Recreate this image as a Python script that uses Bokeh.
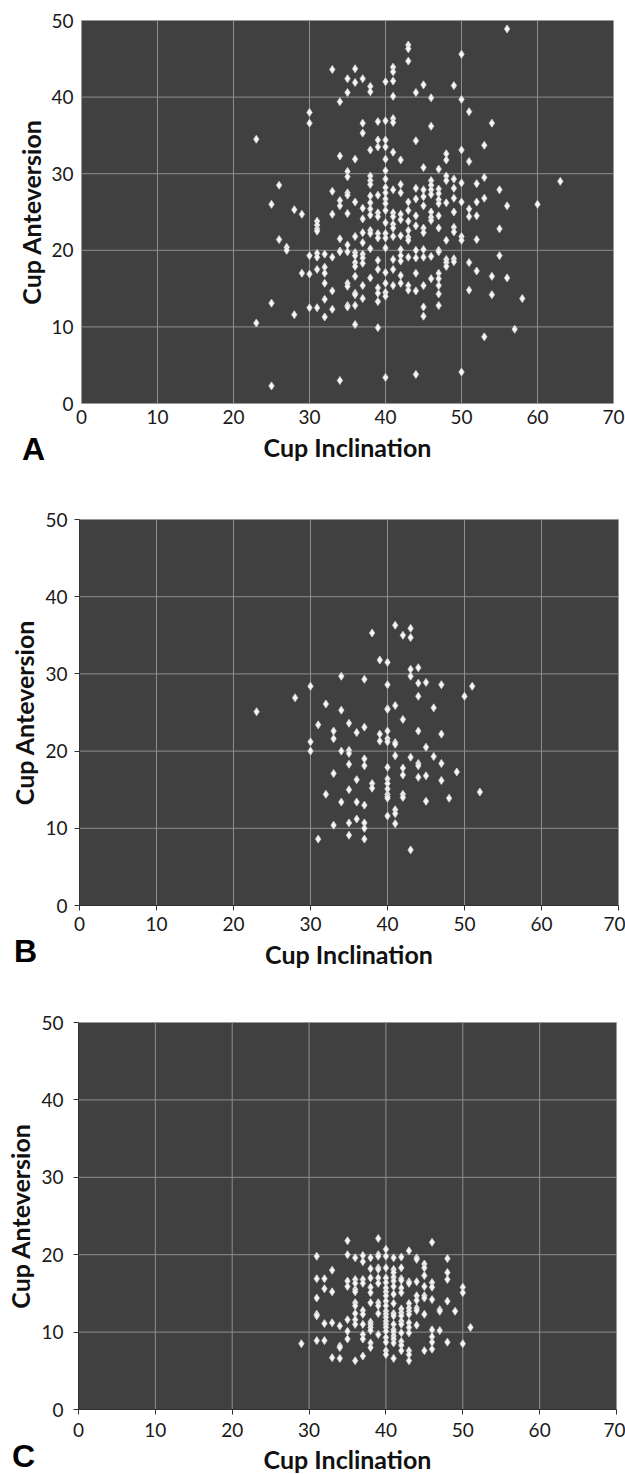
from bokeh.plotting import figure
from bokeh.layouts import column
from bokeh.models import Range1d, FixedTicker, Label, LinearAxis
from bokeh.embed import file_html
from bokeh.resources import INLINE

# ---------------- data ----------------
x_ticks = [0, 10, 20, 30, 40, 50, 60, 70]
y_ticks = [0, 10, 20, 30, 40, 50]
x_label = "Cup Inclination"
y_label = "Cup Anteversion"
letters = ["A", "B", "C"]

# Panel A: cup inclination columns and the anteversion values found in each
a_incl = [23, 25, 26, 27, 28, 29, 30, 31, 32, 33, 34, 35, 36, 37, 38, 39, 40,
          41, 42, 43, 44, 45, 46, 47, 48, 49, 50, 51, 52, 53, 54, 55, 56, 57,
          58, 60, 63]
a_antev = [
    [34.5, 10.5],
    [26.0, 13.1, 2.3],
    [28.5, 21.4],
    [20.4, 20.0],
    [25.3, 11.6],
    [24.7, 17.0],
    [38.0, 36.6, 19.3, 16.9, 12.5],
    [23.8, 23.3, 22.8, 22.5, 19.6, 19.1, 17.5, 12.5],
    [19.5, 17.8, 17.0, 15.7, 13.6, 11.3],
    [43.6, 27.7, 24.7, 19.1, 14.7, 12.3],
    [39.4, 32.3, 26.5, 25.8, 21.5, 19.9, 19.8, 3.0],
    [42.4, 40.6, 30.3, 29.6, 27.5, 27.2, 24.8, 20.7, 19.8, 15.7, 15.3, 12.8, 12.6],
    [43.7, 41.9, 31.9, 26.3, 21.8, 19.7, 19.3, 18.4, 17.9, 16.6, 14.4, 14.2, 12.8, 10.3],
    [42.4, 36.6, 35.3, 25.5, 24.1, 22.3, 21.0, 19.5, 19.0, 18.3, 15.4, 13.7],
    [41.4, 40.7, 33.1, 29.7, 29.1, 28.6, 27.1, 26.2, 25.4, 24.6, 22.6, 22.2, 20.2, 16.4],
    [36.8, 34.4, 33.5, 27.2, 24.9, 24.4, 22.2, 21.6, 18.7, 17.5, 15.1, 14.4, 13.3, 9.9],
    [42.0, 36.9, 34.4, 33.5, 31.9, 30.4, 29.3, 28.2, 27.5, 26.7, 26.1, 25.2, 23.6,
     22.2, 21.6, 20.3, 17.1, 15.7, 14.5, 14.0, 3.4],
    [43.9, 43.3, 42.1, 40.1, 37.2, 36.7, 32.8, 27.9, 24.9, 24.4, 23.4, 22.9, 21.8,
     18.8, 17.5, 15.4],
    [31.8, 28.6, 27.5, 24.7, 24.0, 21.9, 20.1, 19.3, 18.6, 16.7, 15.7],
    [46.8, 46.3, 44.7, 26.3, 25.2, 23.8, 22.6, 21.7, 21.3, 19.1, 15.4, 14.8],
    [40.6, 34.3, 28.1, 26.7, 24.5, 23.2, 20.0, 19.0, 17.0, 14.7, 3.8],
    [41.6, 30.8, 27.9, 27.0, 25.8, 22.9, 22.3, 20.1, 19.1, 15.4, 12.6, 11.4],
    [39.9, 36.2, 29.1, 28.5, 27.9, 27.3, 25.0, 24.3, 23.9, 19.2, 16.3],
    [30.6, 28.0, 27.4, 26.6, 26.1, 24.5, 22.9, 20.0, 19.8, 17.0, 16.3, 15.4, 14.3, 12.8],
    [32.6, 31.8, 29.7, 29.1, 26.2, 21.3, 18.8, 18.4, 17.9],
    [41.5, 29.3, 28.1, 26.8, 25.0, 23.0, 22.4, 18.9, 18.5],
    [45.6, 39.7, 33.1, 28.8, 26.3, 21.8, 21.3, 4.1],
    [38.1, 31.6, 25.4, 24.4, 18.4, 14.8],
    [28.7, 26.3, 24.5, 21.4, 17.3],
    [33.7, 29.5, 26.8, 8.7],
    [36.6, 16.6, 14.2],
    [27.9, 22.8, 19.3],
    [48.9, 25.8, 16.4],
    [9.7],
    [13.7],
    [26.0],
    [29.0],
]

# Panel B
b_incl = [23, 28, 30, 31, 32, 33, 34, 35, 36, 37, 38, 39, 40, 41, 42, 43, 44,
          45, 46, 47, 48, 49, 50, 51, 52]
b_antev = [
    [25.1],
    [26.9],
    [28.4, 21.2, 20.0],
    [23.4, 8.6],
    [26.1, 14.4],
    [22.6, 21.6, 17.1, 10.4],
    [29.7, 25.3, 20.0, 13.4],
    [23.6, 20.1, 19.7, 18.3, 15.0, 10.7, 9.1],
    [22.4, 16.3, 13.4, 11.2],
    [29.3, 23.1, 19.0, 18.1, 13.0, 10.7, 10.0, 8.6],
    [35.3, 15.8, 15.2],
    [31.8, 22.2, 21.3],
    [31.5, 28.6, 25.5, 25.4, 22.6, 21.6, 21.2, 17.9, 16.4, 15.8, 15.1, 14.4, 14.1, 13.9, 11.6],
    [36.3, 25.9, 21.1, 20.9, 19.4, 12.4, 11.9, 10.6],
    [35.0, 24.1, 17.8, 16.9, 14.4, 14.0],
    [35.9, 34.7, 30.6, 29.7, 19.2, 7.2],
    [30.8, 28.8, 27.1, 22.6, 18.4, 18.1, 16.6],
    [28.9, 20.5, 16.8, 13.5],
    [25.6, 19.3],
    [28.6, 22.2, 18.4, 16.2],
    [13.9],
    [17.3],
    [27.1],
    [28.4],
    [14.7],
]

# Panel C
c_incl = [29, 31, 32, 33, 34, 35, 36, 37, 38, 39, 40, 41, 42, 43, 44, 45, 46,
          47, 48, 49, 50, 51]
c_antev = [
    [8.5],
    [19.8, 16.9, 14.4, 12.3, 12.1, 8.9],
    [16.9, 15.6, 11.1, 8.9],
    [18.0, 15.2, 11.2, 6.7],
    [10.8, 8.2, 8.0, 6.6],
    [21.8, 20.0, 16.6, 15.9, 11.6, 10.1, 9.1],
    [19.6, 16.8, 16.3, 15.5, 15.2, 13.8, 13.4, 12.4, 11.6, 11.0, 6.3],
    [19.9, 19.1, 16.8, 16.3, 12.8, 12.3, 11.0, 9.7, 9.1, 6.9],
    [19.6, 18.2, 17.0, 15.8, 15.1, 13.8, 11.3, 11.0, 10.6, 10.2, 8.6, 8.0],
    [22.1, 20.0, 19.8, 18.3, 18.1, 17.0, 16.3, 13.8, 13.4, 12.4, 9.7],
    [20.7, 19.8, 18.3, 17.0, 16.4, 15.7, 15.2, 14.7, 14.0, 13.4, 12.7, 12.3, 11.9,
     11.4, 11.0, 10.6, 10.1, 9.3, 8.7, 7.6, 7.1],
    [19.6, 18.1, 17.7, 17.1, 16.6, 15.9, 14.9, 13.7, 12.4, 12.1, 11.0, 10.3, 10.0,
     9.5, 9.1, 8.6, 6.6],
    [19.7, 18.3, 16.9, 16.7, 15.7, 15.1, 13.0, 12.5, 12.1, 11.4, 11.0, 9.9, 8.8, 8.3, 7.6],
    [20.5, 16.5, 16.3, 13.7, 13.1, 12.7, 12.3, 11.2, 10.6, 9.9, 7.6, 7.1, 6.3],
    [19.6, 19.4, 16.5, 14.7, 14.1, 13.1, 12.8, 10.9],
    [18.8, 18.3, 17.3, 15.9, 14.7, 14.4, 12.3, 7.6],
    [21.6, 16.4, 15.8, 14.2, 10.3, 9.4, 8.7, 7.8],
    [12.9, 12.7, 10.2],
    [19.5, 17.7, 16.8, 14.0, 8.7],
    [12.7],
    [15.8, 15.1, 8.5],
    [10.6],
]

# ---------------- styling ----------------
FONT = "Lato"
BG = "#404040"
GRID = "#8e8e8e"
W = 625


def expand(cols, vals):
    xs, ys = [], []
    for c, vs in zip(cols, vals):
        for v in vs:
            xs.append(c)
            ys.append(v)
    return xs, ys


def panel(incl, antev, letter, H, left, right, top, bottom, ticks_out,
          ylab_so, yaxis_so, xlab_so, xaxis_so, letter_px, letter_py):
    x0, x1 = x_ticks[0], x_ticks[-1]
    y0, y1 = y_ticks[0], y_ticks[-1]
    ppx = (right - left) / (x1 - x0)
    ppy = (bottom - top) / (y1 - y0)
    # the frame covers the whole canvas; the plotting area is drawn inside it
    xr = Range1d(x0 - left / ppx, x1 + (W - right) / ppx)
    yr = Range1d(y0 - (H - bottom) / ppy, y1 + top / ppy)
    p = figure(width=W, height=H, output_backend="svg", toolbar_location=None,
               tools="", x_range=xr, y_range=yr, min_border=0,
               x_axis_location=None, y_axis_location=None)
    p.outline_line_color = None
    p.background_fill_color = "white"
    p.border_fill_color = "white"
    p.grid.visible = False

    # dark plotting area with its light outline
    p.quad(left=[x0], right=[x1], bottom=[y0], top=[y1], fill_color=BG,
           line_color="#9a9a9a", line_width=1)
    # grid lines at the tick values
    p.segment(x0=x_ticks[1:-1], y0=[y0] * (len(x_ticks) - 2),
              x1=x_ticks[1:-1], y1=[y1] * (len(x_ticks) - 2),
              line_color=GRID, line_width=1)
    p.segment(x0=[x0] * (len(y_ticks) - 2), y0=y_ticks[1:-1],
              x1=[x1] * (len(y_ticks) - 2), y1=y_ticks[1:-1],
              line_color=GRID, line_width=1)

    xa = LinearAxis(fixed_location=y0, bounds=(x0, x1),
                    ticker=FixedTicker(ticks=x_ticks), axis_label=x_label)
    ya = LinearAxis(fixed_location=x0, bounds=(y0, y1),
                    ticker=FixedTicker(ticks=y_ticks), axis_label=y_label)
    for ax in (xa, ya):
        ax.minor_tick_line_color = None
        ax.major_tick_in = 0
        ax.major_tick_out = ticks_out
        if ticks_out:
            ax.axis_line_color = "#333333"
            ax.major_tick_line_color = "#333333"
        else:
            ax.axis_line_color = None
            ax.major_tick_line_color = None
        ax.major_label_text_font = FONT
        ax.major_label_text_font_size = "19px"
        ax.major_label_text_color = "#1a1a1a"
        ax.axis_label_text_font = FONT
        ax.axis_label_text_font_style = "bold"
        ax.axis_label_text_font_size = "25px"
        ax.axis_label_text_color = "#111111"
    ya.major_label_standoff = ylab_so
    ya.axis_label_standoff = yaxis_so
    xa.major_label_standoff = xlab_so
    xa.axis_label_standoff = xaxis_so
    p.add_layout(xa, "below")
    p.add_layout(ya, "left")

    xs, ys = expand(incl, antev)
    p.scatter(xs, ys, marker="diamond", size=8, fill_color="#f7f7f7",
              line_color="#cfcfcf", line_width=0.9)

    p.add_layout(Label(x=x0 + (letter_px - left) / ppx,
                       y=y0 + (bottom - letter_py) / ppy,
                       text=letter, text_font="Liberation Sans",
                       text_font_style="bold", text_font_size="32px",
                       text_color="#000000", text_align="center",
                       text_baseline="middle"))
    return p


pa = panel(a_incl, a_antev, letters[0], 470, 81, 613, 20, 403, 0,
           8, 2, 6, 5, 33, 448)
pb = panel(b_incl, b_antev, letters[1], 515, 79, 618, 49, 435, 5,
           7, 3, 6, 5, 25, 480)
pc = panel(c_incl, c_antev, letters[2], 489, 78, 616, 37, 424, 5,
           10, 3, 8, 4, 23, 470)

layout = column(pa, pb, pc, spacing=0)
open("out.html", "w").write(file_html(layout, INLINE))
